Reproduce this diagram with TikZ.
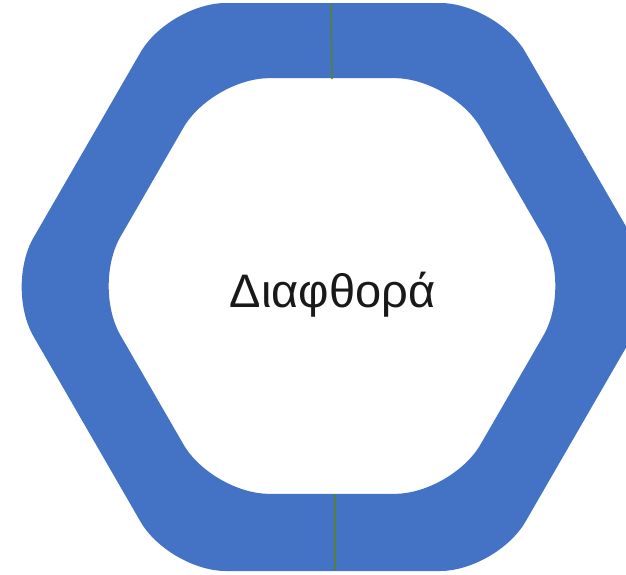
\documentclass[tikz,border=0pt]{standalone}
\usepackage{fontspec}
\setmainfont{Liberation Sans}
\usetikzlibrary{positioning}
\definecolor{ringblue}{HTML}{4472C4}
\definecolor{seamgreen}{HTML}{548235}
\tikzset{
  ring/.style={
    fill=ringblue,
    even odd rule,
    rounded corners=57pt
  },
  seam/.style={
    draw=seamgreen,
    line width=1.5pt
  },
  label/.style={
    inner sep=0pt,
    text=black!90,
    font=\fontsize{47}{53}\selectfont
  }
}
\begin{document}
\begin{tikzpicture}[x=1pt,y=-1pt]
  \useasboundingbox (0,0) rectangle (626,574);
  % outer and inner hexagon
  \fill[ring] (333,3) -- (497,3) -- (661,287) -- (497,571) -- (169,571) -- (5,287) -- (169,3) -- cycle
              (332,78.2) -- (452,78.2) -- (572,286) -- (452,493.8) -- (212,493.8) -- (92,286) -- (212,78.2) -- cycle;
  % joins of the two halves
  \coordinate (topout) at (331,4);
  \coordinate (topin) at (332,79);
  \coordinate (botin) at (335,494);
  \coordinate (botout) at (335,570);
  \draw[seam] (topout) -- (topin);
  \draw[seam] (botin) -- (botout);
  \node[label, anchor=base] (name) at (332.5,307) {Διαφθορά};
\end{tikzpicture}
\end{document}
